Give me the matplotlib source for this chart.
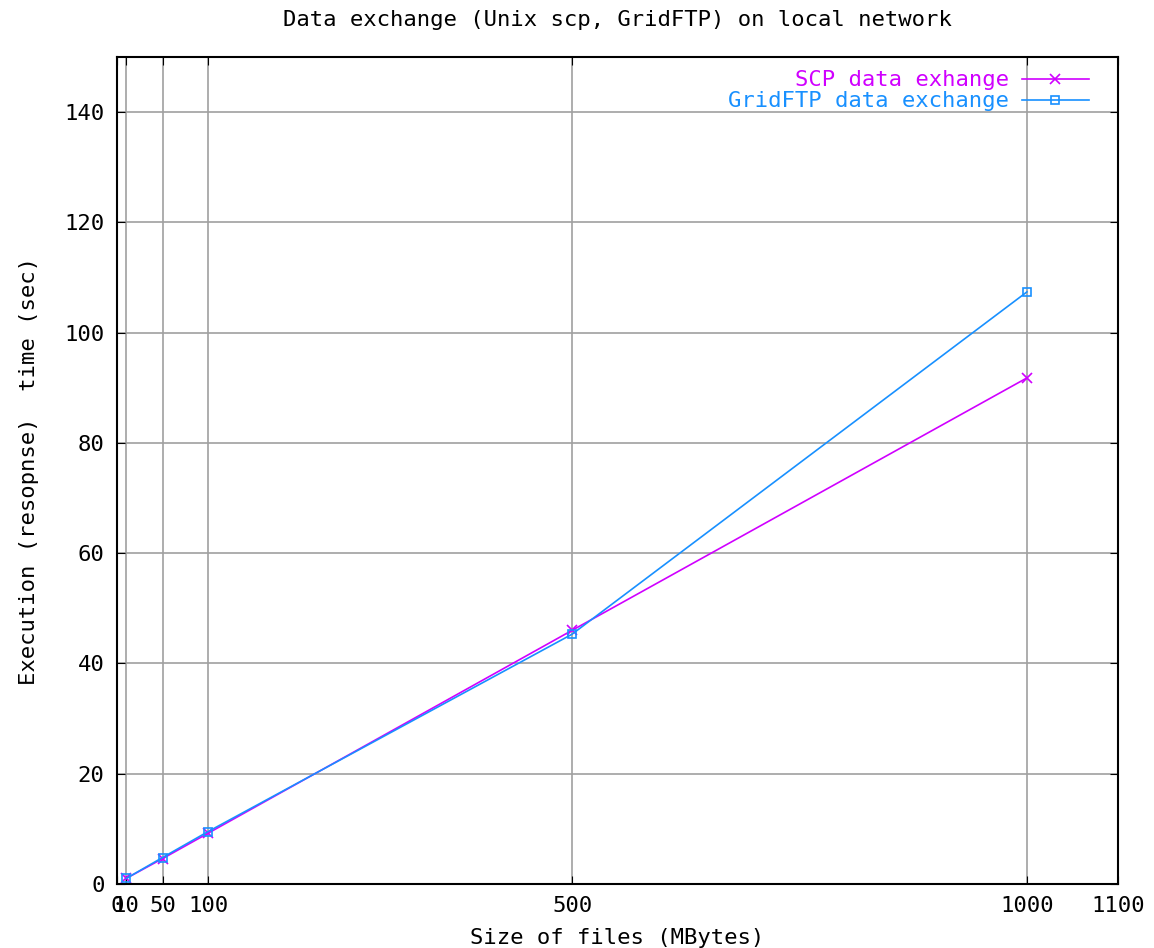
import matplotlib
matplotlib.use("Agg")
import matplotlib.pyplot as plt

sizes = [10, 50, 100, 500, 1000]
scp_times = [1.0, 4.6, 9.2, 46.0, 91.8]
gridftp_times = [1.0, 4.8, 9.5, 45.3, 107.4]
x_ticks = [0, 10, 50, 100, 500, 1000, 1100]
y_ticks = [0, 20, 40, 60, 80, 100, 120, 140]

plt.rcParams['font.family'] = ['DejaVu Sans Mono']
FS = 16
fig = plt.figure(figsize=(11.54, 9.48), dpi=100)
ax = fig.add_axes([117/1154, 1-884/948, (1118-117)/1154, (884-57)/948])

ax.plot(sizes, scp_times, color='#d000ff', lw=1.2, marker='x', ms=7, mew=1.2,
        label='SCP data exhange')
ax.plot(sizes, gridftp_times, color='#1890ff', lw=1.2, marker='s', ms=6, mew=1.2,
        mfc='none', label='GridFTP data exchange')

ax.set_xlim(0, 1100)
ax.set_ylim(0, 150)
ax.set_xticks(x_ticks)
ax.set_xticklabels([str(t) for t in x_ticks])
ax.set_yticks(y_ticks)
ax.grid(True, color='#a0a0a0', lw=1.2)
ax.tick_params(direction='in', top=True, right=True, length=6, labelsize=FS, pad=9)
for s in ax.spines.values():
    s.set_linewidth(1.5)

ax.set_title('Data exchange (Unix scp, GridFTP) on local network', fontsize=FS, pad=22)
ax.set_xlabel('Size of files (MBytes)', fontsize=FS, labelpad=8)
ax.set_ylabel('Execution (resopnse)  time (sec)', fontsize=FS, labelpad=18)

leg = ax.legend(loc='upper right', bbox_to_anchor=(1 - 16/1001, 1.0), frameon=False,
                markerfirst=False, fontsize=FS, handlelength=3.0, borderaxespad=0.2,
                labelspacing=0.05, handletextpad=0.6)
for t, c in zip(leg.get_texts(), ['#d000ff', '#1890ff']):
    t.set_color(c)

fig.savefig('out.png', dpi=100)
